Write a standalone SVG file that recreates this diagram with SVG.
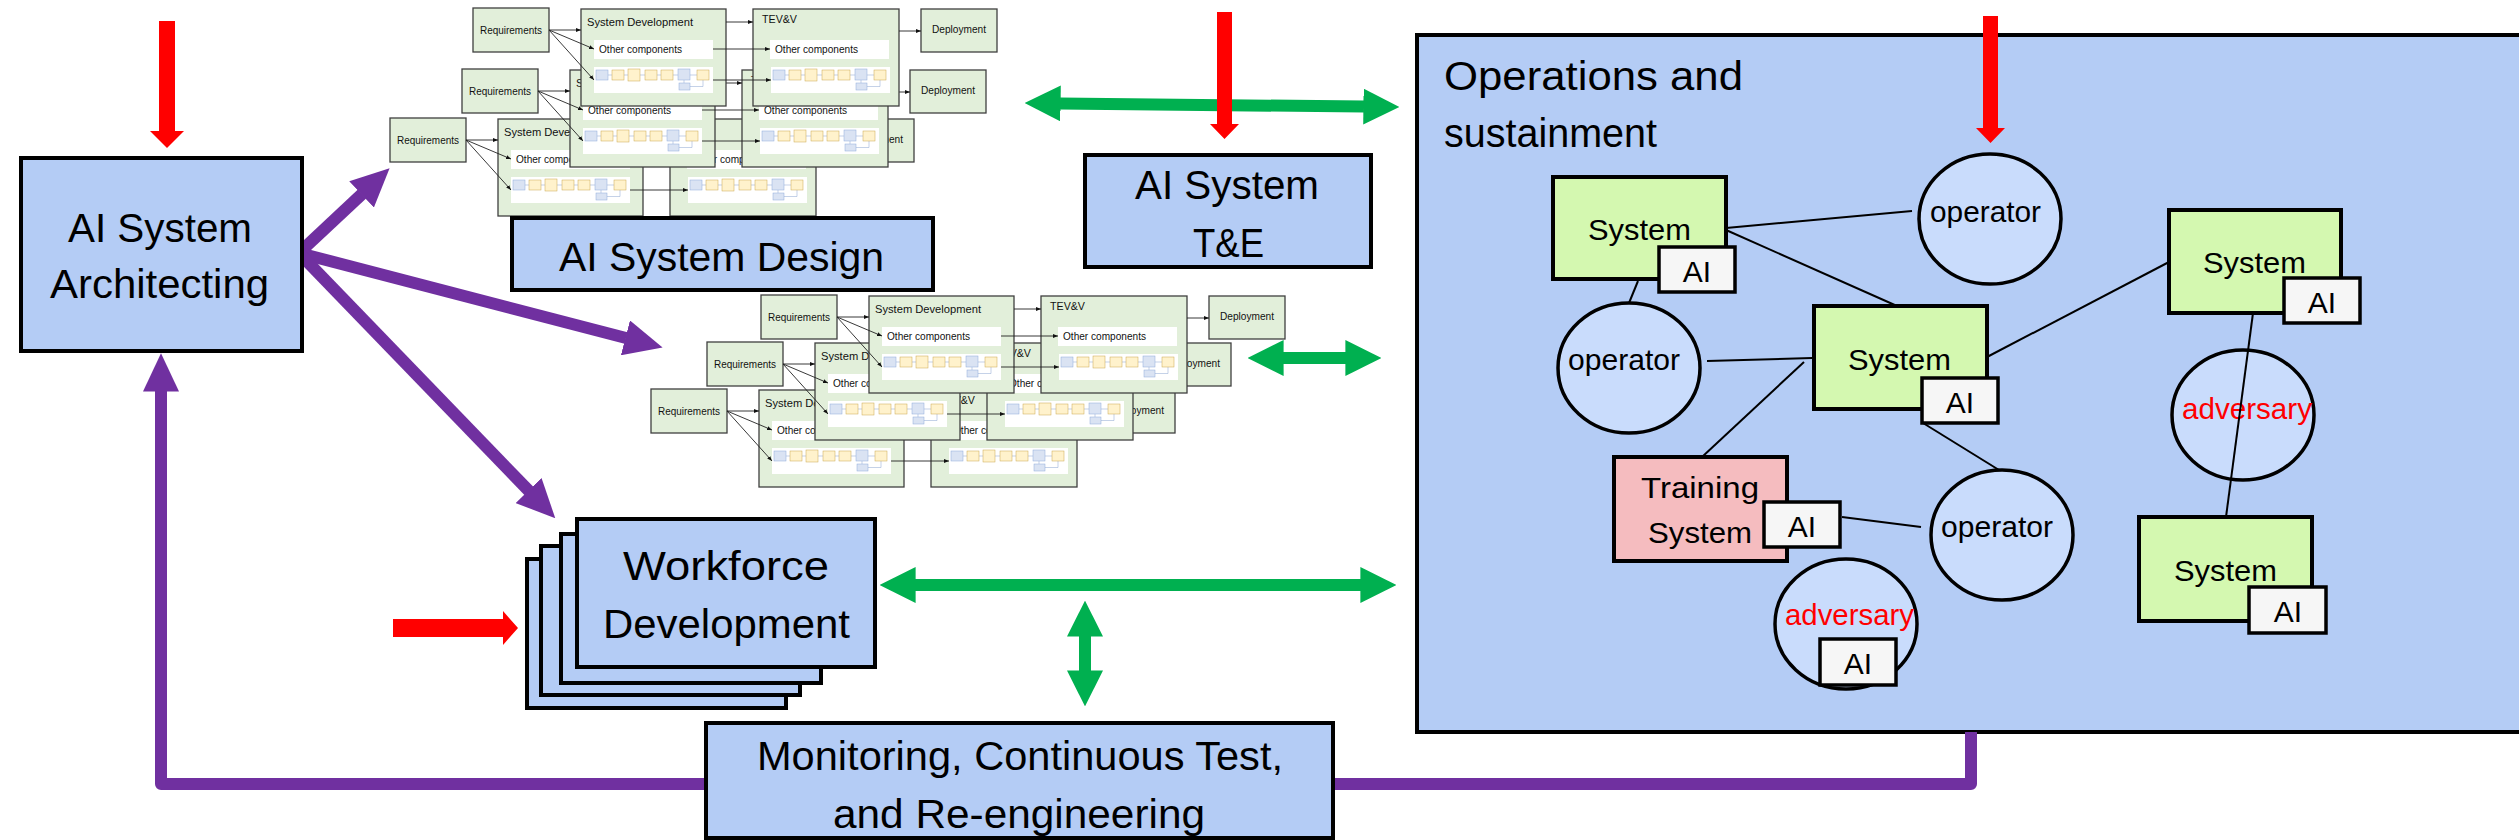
<svg xmlns="http://www.w3.org/2000/svg" xmlns:xlink="http://www.w3.org/1999/xlink" width="2519" height="840" viewBox="0 0 2519 840">
  <style>
    text { font-family: "Liberation Sans", Arial, sans-serif; fill: #000; }
    .big { font-size: 40px; }
    .lbl { font-size: 30px; }
    .red { fill: #ff0000; }
    .box { fill: #b4ccf5; stroke: #000; stroke-width: 4; }
    .sys { fill: #d4f8b0; stroke: #000; stroke-width: 4; }
    .trn { fill: #f5bcbf; stroke: #000; stroke-width: 4; }
    .ai { fill: #f6f6f6; stroke: #000; stroke-width: 3.5; }
    .ell { fill: #c9dcfc; stroke: #000; stroke-width: 3.5; }
    .link { stroke: #000; stroke-width: 2; fill: none; }
    .purple { stroke: #7030a0; stroke-width: 12; fill: none; stroke-linejoin: round; }
    .green { stroke: #00b050; stroke-width: 12; fill: none; }
    .redarrow { fill: #ff0000; }
    .fbox { fill: #e2efda; stroke: #3f3f3f; stroke-width: 1.3; }
    .fwhite { fill: #ffffff; stroke: none; }
    .ftxt { font-size: 10.5px; fill: #111; }
    .farrow { stroke: #222; stroke-width: 0.9; fill: none; marker-end: url(#sa); }
    .pb { fill: #dae3f3; stroke: #8eaadb; stroke-width: 0.5; }
    .py { fill: #fff2cc; stroke: #c9a74f; stroke-width: 0.5; }
    .pl { stroke: #9db3d9; stroke-width: 0.6; fill: none; }
  </style>
  <defs>
    <marker id="ph" markerUnits="strokeWidth" viewBox="0 0 3.2 3" markerWidth="3.2" markerHeight="3" refX="0.05" refY="1.5" orient="auto">
      <path d="M0,0 L3.2,1.5 L0,3 Z" fill="#7030a0"/>
    </marker>
    <marker id="gh" markerUnits="strokeWidth" viewBox="0 0 3 3" markerWidth="3" markerHeight="3" refX="0.05" refY="1.5" orient="auto-start-reverse">
      <path d="M0,0 L3,1.5 L0,3 Z" fill="#00b050"/>
    </marker>
    <marker id="sa" markerUnits="userSpaceOnUse" viewBox="0 0 5 4" markerWidth="5" markerHeight="4" refX="5" refY="2" orient="auto">
      <path d="M0,0 L5,2 L0,4 Z" fill="#111"/>
    </marker>
    <clipPath id="midclip">
      <rect x="0" y="0" width="1286" height="840"/>
    </clipPath>

    <!-- one pipeline strip of small stage boxes -->
    <g id="pipe">
      <rect class="fwhite" x="0" y="0" width="119" height="26"/>
      <path class="pl" d="M14,8 H18 M30,8 H34 M46,8 H51 M63,8 H67 M79,8 H84 M96,8 H103 M90,13 V16 M96,19.5 H109 V13"/>
      <rect class="pb" x="2" y="3" width="12" height="10"/>
      <rect class="py" x="18" y="3" width="12" height="10"/>
      <rect class="py" x="34" y="2" width="12" height="12"/>
      <rect class="py" x="51" y="3" width="12" height="10"/>
      <rect class="py" x="67" y="3" width="12" height="10"/>
      <rect class="pb" x="84" y="2" width="12" height="11"/>
      <rect class="py" x="103" y="3" width="12" height="10"/>
      <rect class="pb" x="85" y="16" width="11" height="7"/>
    </g>

    <!-- one development flow: requirements to deployment -->
    <g id="flow">
      <rect class="fbox" x="0" y="0" width="76" height="44"/>
      <text class="ftxt" x="7" y="26" textLength="62" lengthAdjust="spacingAndGlyphs">Requirements</text>
      <rect class="fbox" x="108" y="1" width="145" height="97"/>
      <text class="ftxt" x="114" y="18" font-size="11.5" textLength="106" lengthAdjust="spacingAndGlyphs">System Development</text>
      <rect class="fwhite" x="121" y="32" width="119" height="19"/>
      <text class="ftxt" x="126" y="45" textLength="83" lengthAdjust="spacingAndGlyphs">Other components</text>
      <use xlink:href="#pipe" x="121" y="59"/>
      <rect class="fbox" x="280" y="1" width="146" height="97"/>
      <text class="ftxt" x="289" y="15" font-size="11.5" textLength="35" lengthAdjust="spacingAndGlyphs">TEV&amp;V</text>
      <rect class="fwhite" x="297" y="32" width="119" height="19"/>
      <text class="ftxt" x="302" y="45" textLength="83" lengthAdjust="spacingAndGlyphs">Other components</text>
      <use xlink:href="#pipe" x="298" y="59"/>
      <rect class="fbox" x="448" y="1" width="76" height="43"/>
      <text class="ftxt" x="459" y="25" textLength="54" lengthAdjust="spacingAndGlyphs">Deployment</text>
      <line class="farrow" x1="76" y1="22" x2="108" y2="22"/>
      <line class="farrow" x1="76" y1="22" x2="121" y2="41"/>
      <line class="farrow" x1="76" y1="22" x2="121" y2="72"/>
      <line class="farrow" x1="253" y1="14" x2="280" y2="14"/>
      <line class="farrow" x1="240" y1="41" x2="297" y2="41"/>
      <line class="farrow" x1="240" y1="72" x2="298" y2="72"/>
      <line class="farrow" x1="426" y1="23" x2="448" y2="23"/>
    </g>
  </defs>

  <rect x="0" y="0" width="2519" height="840" fill="#ffffff"/>

  <!-- operations and sustainment area -->
  <g id="ops">
    <rect class="box" x="1417" y="35" width="1120" height="697"/>
    <text class="big" x="1444" y="90" textLength="299" lengthAdjust="spacingAndGlyphs">Operations and</text>
    <text class="big" x="1444" y="147" textLength="213" lengthAdjust="spacingAndGlyphs">sustainment</text>
  </g>

  <!-- design flows, upper stack -->
  <g id="design-flows-top">
    <use xlink:href="#flow" x="390" y="118"/>
    <use xlink:href="#flow" x="462" y="69"/>
    <use xlink:href="#flow" x="473" y="8"/>
  </g>

  <!-- design flows, lower stack -->
  <g id="design-flows-mid" clip-path="url(#midclip)">
    <use xlink:href="#flow" x="651" y="389"/>
    <use xlink:href="#flow" x="707" y="342"/>
    <use xlink:href="#flow" x="761" y="295"/>
  </g>

  <!-- connectors -->
  <g id="connectors">
    <path class="purple" d="M1971,732 V784 H161 V391" marker-end="url(#ph)"/>
    <line class="purple" x1="299" y1="253" x2="362" y2="194" marker-end="url(#ph)"/>
    <line class="purple" x1="299" y1="253" x2="626" y2="338" marker-end="url(#ph)"/>
    <line class="purple" x1="299" y1="253" x2="529" y2="491" marker-end="url(#ph)"/>

    <line class="green" x1="1060" y1="103.4" x2="1364" y2="106.6" marker-start="url(#gh)" marker-end="url(#gh)"/>
    <line class="green" x1="1283" y1="358" x2="1346" y2="358" marker-start="url(#gh)" marker-end="url(#gh)"/>
    <line class="green" x1="915" y1="585" x2="1361" y2="585" marker-start="url(#gh)" marker-end="url(#gh)"/>
    <line class="green" x1="1085" y1="636" x2="1085" y2="671" marker-start="url(#gh)" marker-end="url(#gh)"/>

    <path class="redarrow" d="M159,21 H175 V131 H184 L167,148 L150,131 H159 Z"/>
    <path class="redarrow" d="M1217,12 H1232 V124 H1239 L1224.5,139 L1210,124 H1217 Z"/>
    <path class="redarrow" d="M1983,16 H1998 V128 H2005 L1990.5,143 L1976,128 H1983 Z"/>
    <path class="redarrow" d="M393,619 H503 V611 L518,628 L503,645 V637 H393 Z"/>
  </g>

  <g id="architecting">
    <rect class="box" x="21" y="158" width="281" height="193"/>
    <text class="big" x="68" y="242" textLength="184" lengthAdjust="spacingAndGlyphs">AI System</text>
    <text class="big" x="50" y="298" textLength="219" lengthAdjust="spacingAndGlyphs">Architecting</text>
  </g>

  <g id="design">
    <rect class="box" x="512" y="218" width="421" height="72"/>
    <text class="big" x="559" y="271" textLength="325" lengthAdjust="spacingAndGlyphs">AI System Design</text>
  </g>

  <g id="test-eval">
    <rect class="box" x="1085" y="155" width="286" height="112"/>
    <text class="big" x="1135" y="199" textLength="184" lengthAdjust="spacingAndGlyphs">AI System</text>
    <text class="big" x="1193" y="257" textLength="71" lengthAdjust="spacingAndGlyphs">T&amp;E</text>
  </g>

  <g id="workforce">
    <rect class="box" x="527" y="559" width="259" height="149"/>
    <rect class="box" x="541" y="546" width="259" height="149"/>
    <rect class="box" x="561" y="534" width="260" height="149"/>
    <rect class="box" x="577" y="519" width="298" height="148"/>
    <text class="big" x="623" y="580" textLength="206" lengthAdjust="spacingAndGlyphs">Workforce</text>
    <text class="big" x="603" y="638" textLength="247" lengthAdjust="spacingAndGlyphs">Development</text>
  </g>

  <g id="monitoring">
    <rect class="box" x="706" y="723" width="627" height="115"/>
    <text class="big" x="757" y="770" textLength="526" lengthAdjust="spacingAndGlyphs">Monitoring, Continuous Test,</text>
    <text class="big" x="833" y="828" textLength="372" lengthAdjust="spacingAndGlyphs">and Re-engineering</text>
  </g>

  <!-- nodes inside operations -->
  <g id="system-1">
    <rect class="sys" x="1553" y="177" width="173" height="102"/>
    <text class="lbl" x="1588" y="240" textLength="103" lengthAdjust="spacingAndGlyphs">System</text>
    <rect class="ai" x="1659" y="247" width="76" height="45"/>
    <text class="lbl" x="1697" y="282" text-anchor="middle">AI</text>
  </g>
  <g id="operator-1">
    <ellipse class="ell" cx="1990" cy="219" rx="71" ry="65"/>
    <text class="lbl" x="1930" y="222" textLength="111" lengthAdjust="spacingAndGlyphs">operator</text>
  </g>
  <g id="system-3">
    <rect class="sys" x="2169" y="210" width="172" height="103"/>
    <text class="lbl" x="2203" y="273" textLength="103" lengthAdjust="spacingAndGlyphs">System</text>
    <rect class="ai" x="2284" y="278" width="76" height="45"/>
    <text class="lbl" x="2322" y="313" text-anchor="middle">AI</text>
  </g>
  <g id="operator-2">
    <ellipse class="ell" cx="1629" cy="368" rx="71" ry="65"/>
    <text class="lbl" x="1568" y="370" textLength="112" lengthAdjust="spacingAndGlyphs">operator</text>
  </g>
  <g id="system-2">
    <rect class="sys" x="1814" y="306" width="173" height="103"/>
    <text class="lbl" x="1848" y="370" textLength="103" lengthAdjust="spacingAndGlyphs">System</text>
    <rect class="ai" x="1922" y="378" width="76" height="45"/>
    <text class="lbl" x="1960" y="413" text-anchor="middle">AI</text>
  </g>
  <g id="adversary-1">
    <ellipse class="ell" cx="2243" cy="415" rx="71" ry="65"/>
    <text class="lbl red" x="2182" y="419" textLength="130" lengthAdjust="spacingAndGlyphs">adversary</text>
  </g>
  <g id="training-system">
    <rect class="trn" x="1614" y="457" width="173" height="104"/>
    <text class="lbl" x="1641" y="498" textLength="118" lengthAdjust="spacingAndGlyphs">Training</text>
    <text class="lbl" x="1648" y="543" textLength="104" lengthAdjust="spacingAndGlyphs">System</text>
    <rect class="ai" x="1764" y="502" width="76" height="45"/>
    <text class="lbl" x="1802" y="537" text-anchor="middle">AI</text>
  </g>
  <g id="operator-3">
    <ellipse class="ell" cx="2002" cy="535" rx="71" ry="65"/>
    <text class="lbl" x="1941" y="537" textLength="112" lengthAdjust="spacingAndGlyphs">operator</text>
  </g>
  <g id="adversary-2">
    <ellipse class="ell" cx="1846" cy="624" rx="71" ry="65"/>
    <text class="lbl red" x="1785" y="625" textLength="129" lengthAdjust="spacingAndGlyphs">adversary</text>
    <rect class="ai" x="1820" y="639" width="76" height="46"/>
    <text class="lbl" x="1858" y="674" text-anchor="middle">AI</text>
  </g>
  <g id="system-4">
    <rect class="sys" x="2139" y="517" width="173" height="104"/>
    <text class="lbl" x="2174" y="581" textLength="103" lengthAdjust="spacingAndGlyphs">System</text>
    <rect class="ai" x="2249" y="587" width="77" height="46"/>
    <text class="lbl" x="2288" y="622" text-anchor="middle">AI</text>
  </g>

  <!-- links between systems, operators and adversaries -->
  <g id="ops-links">
    <line class="link" x1="1726" y1="228" x2="1912" y2="211"/>
    <line class="link" x1="1726" y1="230" x2="1897" y2="306"/>
    <line class="link" x1="1638" y1="281" x2="1629" y2="303"/>
    <line class="link" x1="2169" y1="262" x2="1987" y2="357"/>
    <line class="link" x1="2253" y1="313" x2="2226" y2="517" stroke-width="1.5"/>
    <line class="link" x1="1707" y1="361" x2="1812" y2="358"/>
    <line class="link" x1="1804" y1="362" x2="1702" y2="457"/>
    <line class="link" x1="1923" y1="423" x2="1999" y2="470"/>
    <line class="link" x1="1842" y1="517" x2="1921" y2="527"/>
  </g>
</svg>
